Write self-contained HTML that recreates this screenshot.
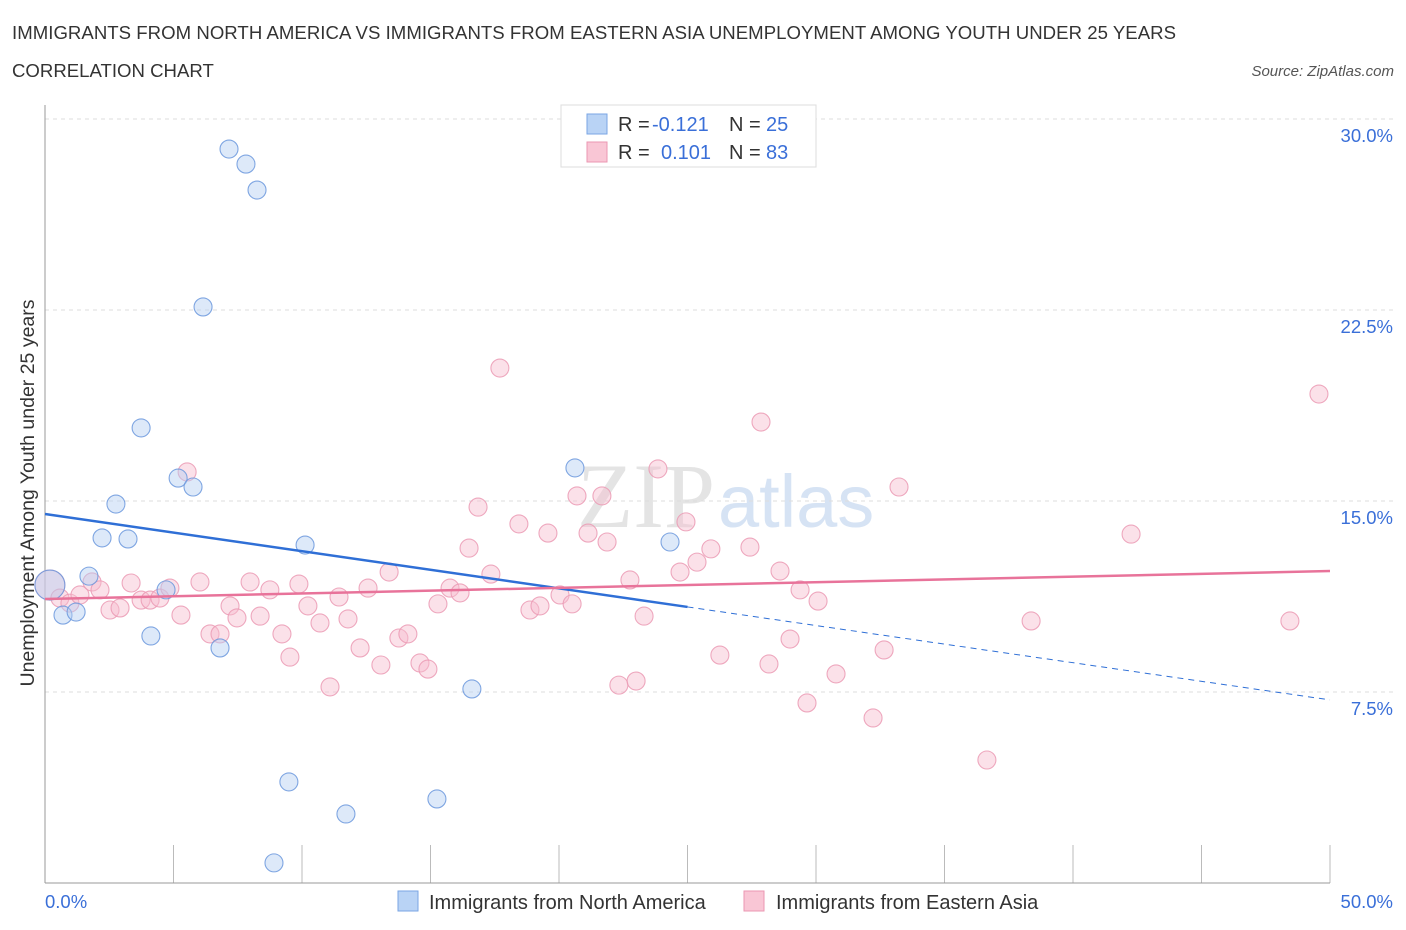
<!DOCTYPE html>
<html><head><meta charset="utf-8">
<style>
body{margin:0;background:#fff;font-family:"Liberation Sans",sans-serif;}
svg{display:block}
</style></head>
<body>
<svg id="chart" width="1406" height="930">
<text x="12" y="39" font-size="18.6" fill="#333" textLength="1164">IMMIGRANTS FROM NORTH AMERICA VS IMMIGRANTS FROM EASTERN ASIA UNEMPLOYMENT AMONG YOUTH UNDER 25 YEARS</text>
<text x="12" y="77" font-size="18.6" fill="#333">CORRELATION CHART</text>
<text x="1394" y="76" font-size="15" fill="#555" font-style="italic" text-anchor="end">Source: ZipAtlas.com</text>
<text x="715" y="527" font-size="92" fill="#e4e4e4" text-anchor="end" font-family="Liberation Serif">ZIP</text>
<text x="718" y="527" font-size="74" fill="#d6e3f4">atlas</text>
<g id="grid"></g>
<g id="axes"></g>
<g id="pts"></g>
<g id="lines"></g>
<text transform="translate(34,493) rotate(-90)" font-size="19.5" fill="#333" text-anchor="middle">Unemployment Among Youth under 25 years</text>
<g>
<rect x="561" y="105" width="255" height="62" fill="#fff" stroke="#ddd"/>
<rect x="587" y="114" width="20" height="20" fill="#b9d3f5" stroke="#7aa6e4"/>
<rect x="587" y="142" width="20" height="20" fill="#f9c6d5" stroke="#eb97b2"/>
<text x="618" y="131" font-size="20" fill="#333">R =</text>
<text x="652" y="131" font-size="20" fill="#3a6fd8">-0.121</text>
<text x="729" y="131" font-size="20" fill="#333">N =</text>
<text x="766" y="131" font-size="20" fill="#3a6fd8">25</text>
<text x="618" y="159" font-size="20" fill="#333">R =</text>
<text x="661" y="159" font-size="20" fill="#3a6fd8">0.101</text>
<text x="729" y="159" font-size="20" fill="#333">N =</text>
<text x="766" y="159" font-size="20" fill="#3a6fd8">83</text>
</g>
<g>
<rect x="398" y="891" width="20" height="20" fill="#b9d3f5" stroke="#7aa6e4"/>
<text x="429" y="909" font-size="20" fill="#333">Immigrants from North America</text>
<rect x="744" y="891" width="20" height="20" fill="#f9c6d5" stroke="#eb97b2"/>
<text x="776" y="909" font-size="20" fill="#333">Immigrants from Eastern Asia</text>
</g>
</svg>
<script>
const yTicks=[7.5,15,22.5,30];
const yTickLabels=["7.5%","15.0%","22.5%","30.0%"];
const xTicks=[5,10,15,20,25,30,35,40,45,50];
const blueX=[7.16,7.82,8.25,6.15,3.74,2.76,5.18,5.76,2.22,3.23,10.12,1.71,0.70,1.21,4.12,6.81,4.71,20.62,24.32,16.61,9.49,15.25,11.71,8.91,0.19];
const blueY=[28.82,28.23,27.21,22.62,17.87,14.88,15.90,15.55,13.55,13.51,13.27,12.05,10.52,10.64,9.70,9.23,11.51,16.30,13.39,7.62,3.97,3.30,2.71,0.79,11.70];
const pinkX=[0.19,0.58,0.97,1.36,1.83,2.14,2.53,2.92,3.35,3.74,4.09,4.47,4.86,5.29,5.53,6.03,6.42,6.81,7.20,7.47,7.98,8.37,8.75,9.22,9.53,9.88,10.23,10.70,11.09,11.44,11.79,12.26,12.57,13.07,13.39,13.77,14.12,14.59,14.90,15.29,15.76,16.15,16.50,16.85,17.35,17.70,18.44,18.87,19.26,19.57,20.04,20.51,20.70,21.13,21.67,21.87,22.33,22.76,23.00,23.31,23.85,24.71,24.94,25.37,25.91,26.26,27.43,27.86,28.17,28.60,28.99,29.38,29.65,30.08,30.78,32.22,32.65,33.23,36.65,38.37,42.26,48.44,49.57];
const pinkY=[11.70,11.19,10.99,11.31,11.82,11.51,10.72,10.80,11.78,11.11,11.11,11.19,11.58,10.52,16.14,11.82,9.78,9.78,10.88,10.41,11.82,10.48,11.51,9.78,8.87,11.74,10.88,10.21,7.70,11.23,10.37,9.23,11.58,8.56,12.21,9.62,9.78,8.64,8.40,10.96,11.58,11.39,13.15,14.76,12.13,20.22,14.10,10.72,10.88,13.74,11.31,10.96,15.20,13.74,15.20,13.39,7.77,11.90,7.93,10.48,16.26,12.21,14.18,12.60,13.12,8.95,13.19,18.10,8.60,12.25,9.58,11.51,7.07,11.07,8.21,6.48,9.15,15.55,4.83,10.29,13.70,10.29,19.20];
const blueTrend=[14.49,10.84,7.19]; // at x=0,25,50
const pinkTrend=[11.15,12.25]; // at x=0,50
const NS="http://www.w3.org/2000/svg";
const sx=v=>45+v*25.7, sy=v=>883-v*25.467;
function mk(tag,attrs,parent){const e=document.createElementNS(NS,tag);for(const k in attrs)e.setAttribute(k,attrs[k]);document.getElementById(parent).appendChild(e);return e;}
yTicks.forEach((t,i)=>{
 const l=mk('line',{x1:45,x2:1394,y1:sy(t),y2:sy(t),stroke:'#ddd','stroke-dasharray':'4,4'},'grid');
 
 
 const tx=mk('text',{x:1393,y:sy(t)+23,'font-size':18.5,fill:'#3a6fd8','text-anchor':'end'},'axes');
 tx.textContent=yTickLabels[i];
 
 
});
xTicks.forEach(t=>{
 const l=mk('line',{x1:sx(t),x2:sx(t),y1:845,y2:883,stroke:'#bbb'},'axes');
 
 
});
mk('line',{x1:45,x2:45,y1:105,y2:883,stroke:'#999'},'axes');
mk('line',{x1:45,x2:1330,y1:883,y2:883,stroke:'#999'},'axes');
[["0.0%",45,'start'],["50.0%",1393,'end']].forEach(a=>{
 const tx=mk('text',{x:a[1],y:908,'font-size':18.5,fill:'#3a6fd8','text-anchor':a[2]},'axes');
 tx.textContent=a[0];
 
 
});
function pts(X,Y,fill,stroke,name){
 X.forEach((x,i)=>{
  const big=(i===X.length-1&&name==='blue-point')||(i===0&&name==='pink-point');
  const c=mk('circle',{cx:sx(x),cy:sy(Y[i]),r:big?15:9,fill:fill,'fill-opacity':0.45,stroke:stroke,'stroke-width':1.1,'stroke-opacity':0.85},'pts');
  
  
 });
}
pts(pinkX,pinkY,'#f7bccf','#eb9ab4','pink-point');
pts(blueX,blueY,'#b3cff2','#6b98dd','blue-point');
let l=mk('line',{x1:sx(0),y1:sy(blueTrend[0]),x2:sx(25),y2:sy(blueTrend[1]),stroke:'#2f6fd6','stroke-width':2.5},'lines');


l=mk('line',{x1:sx(25),y1:sy(blueTrend[1]),x2:sx(50),y2:sy(blueTrend[2]),stroke:'#2f6fd6','stroke-width':1,'stroke-dasharray':'6,5'},'lines');


l=mk('line',{x1:sx(0),y1:sy(pinkTrend[0]),x2:sx(50),y2:sy(pinkTrend[1]),stroke:'#e8739a','stroke-width':2.5},'lines');


</script>
</body></html>
